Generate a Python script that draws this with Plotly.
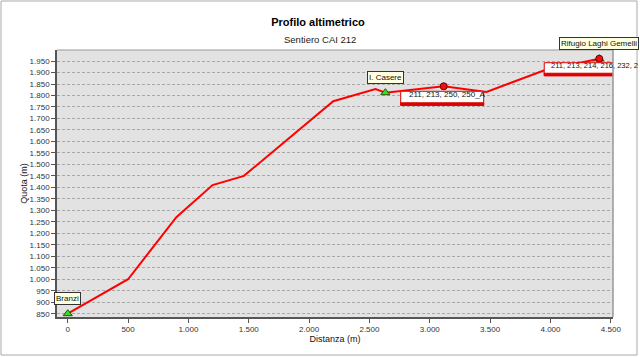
import plotly.graph_objects as go

# Profile data
dist = [0, 500, 900, 1200, 1460, 2200, 2550, 2632, 3115, 3470, 3950, 4404]
quota = [850, 1000, 1270, 1410, 1450, 1775, 1828, 1812, 1840, 1815, 1910, 1960]

# Named places (triangles)
place_names = ["Branzi", "I. Casere", "Rifugio Laghi Gemelli"]
place_x = [0, 2632, 4404]
place_y = [850, 1812, 1960]

# Junctions (circles)
junction_labels = ["211, 213, 250, 250_A", "211, 213, 214, 216, 232, 2"]
junction_x = [3115, 4404]
junction_y = [1840, 1960]

y_ticks = list(range(850, 2000, 50))
x_ticks = list(range(0, 5000, 500))

W, H = 640, 357
ML, MR, MT, MB = 57, 27, 50, 40
PW, PH = W - ML - MR, H - MT - MB

FONT = "Liberation Sans"

fig = go.Figure()
fig.add_trace(go.Scatter(x=dist, y=quota, mode="lines",
                         line=dict(color="#FF0000", width=2), hoverinfo="skip"))
fig.add_trace(go.Scatter(x=place_x, y=place_y, mode="markers",
                         marker=dict(symbol="triangle-up", size=8, color="#33DD22",
                                     line=dict(color="#225500", width=1))))
fig.add_trace(go.Scatter(x=junction_x, y=junction_y, mode="markers",
                         marker=dict(symbol="circle", size=7, color="#EE1111",
                                     line=dict(color="#660000", width=1))))

annotations = []
shapes = []

# place labels (yellow tooltip boxes above point)
for name, px_, py_ in zip(place_names, place_x, place_y):
    annotations.append(dict(x=px_, y=py_, xref="x", yref="y", text=name,
                            showarrow=False, yanchor="bottom", yshift=9,
                            bgcolor="#FFFFE1", bordercolor="#333333", borderwidth=1,
                            borderpad=1, font=dict(family=FONT, size=8, color="#111111")))

# junction label boxes (white with red border and red bottom band) drawn in pixel offsets
box_specs = [(-43, 40, -5, -19, 6, 8), (-55, 110, -4, -17, 5, 7.5)]
for lab, jx, jy, (bx0, bx1, top, bot, pad, fs) in zip(junction_labels, junction_x, junction_y, box_specs):
    shapes.append(dict(type="rect", xref="x", yref="y", xsizemode="pixel", ysizemode="pixel",
                       xanchor=jx, yanchor=jy, x0=bx0, x1=bx1, y0=top, y1=bot,
                       fillcolor="white", line=dict(color="#DD0000", width=1), layer="above"))
    shapes.append(dict(type="rect", xref="x", yref="y", xsizemode="pixel", ysizemode="pixel",
                       xanchor=jx, yanchor=jy, x0=bx0, x1=bx1, y0=bot + 2.5, y1=bot,
                       fillcolor="#DD0000", line=dict(color="#DD0000", width=1), layer="above"))
    annotations.append(dict(x=jx, y=jy, xref="x", yref="y", text=lab, showarrow=False,
                            xanchor="left", yanchor="middle", xshift=bx0 + pad,
                            yshift=(top + bot + 3) / 2 + 2,
                            font=dict(family=FONT, size=fs, color="#111111")))

# subtitle
annotations.append(dict(x=(320 - ML) / PW, y=(H - MB - 40) / PH, xref="paper", yref="paper",
                        text="Sentiero CAI 212", showarrow=False, yanchor="middle",
                        font=dict(family=FONT, size=9.5, color="#222222")))

# outer frame
shapes.append(dict(type="rect", xref="paper", yref="paper",
                   x0=(1 - ML) / PW, x1=(637 - ML) / PW,
                   y0=(H - MB - 355) / PH, y1=(H - MB - 1) / PH,
                   line=dict(color="#AAAAAA", width=1), fillcolor="rgba(0,0,0,0)", layer="below"))

fig.update_layout(
    width=W, height=H,
    margin=dict(l=ML, r=MR, t=MT, b=MB),
    paper_bgcolor="white", plot_bgcolor="#E2E2E2",
    showlegend=False,
    separators=",.",
    title=dict(text="<b>Profilo altimetrico</b>", x=(318) / W, xanchor="center",
               y=1 - 22 / H, yanchor="middle",
               font=dict(family=FONT, size=11, color="#000000")),
    font=dict(family=FONT, size=8, color="#333333"),
    annotations=annotations, shapes=shapes,
    xaxis=dict(range=[-89, 4518], tickvals=x_ticks, tickformat=",d",
               showgrid=False, zeroline=False,
               showline=True, linecolor="#555555", linewidth=1.5, mirror=False,
               ticks="outside", ticklen=4, tickcolor="#555555",
               tickfont=dict(family=FONT, size=8, color="#333333"),
               title=dict(text="Distanza (m)", standoff=1,
                          font=dict(family=FONT, size=9, color="#111111"))),
    yaxis=dict(range=[835.6, 1998], tickvals=y_ticks, tickformat=",d",
               showgrid=True, gridcolor="#A8A8A8", griddash="3px,2px", gridwidth=1,
               zeroline=False,
               showline=True, linecolor="#555555", linewidth=1.5,
               ticks="outside", ticklen=4, tickcolor="#555555",
               tickfont=dict(family=FONT, size=8, color="#333333"),
               title=dict(text="Quota (m)", standoff=0,
                          font=dict(family=FONT, size=9, color="#111111"))),
)

# top/right plot border (lighter)
fig.add_shape(type="line", xref="paper", yref="paper", x0=0, x1=1, y0=1, y1=1,
              line=dict(color="#999999", width=1))
fig.add_shape(type="line", xref="paper", yref="paper", x0=1, x1=1, y0=0, y1=1,
              line=dict(color="#999999", width=1.5))

fig.write_html("out.html")
